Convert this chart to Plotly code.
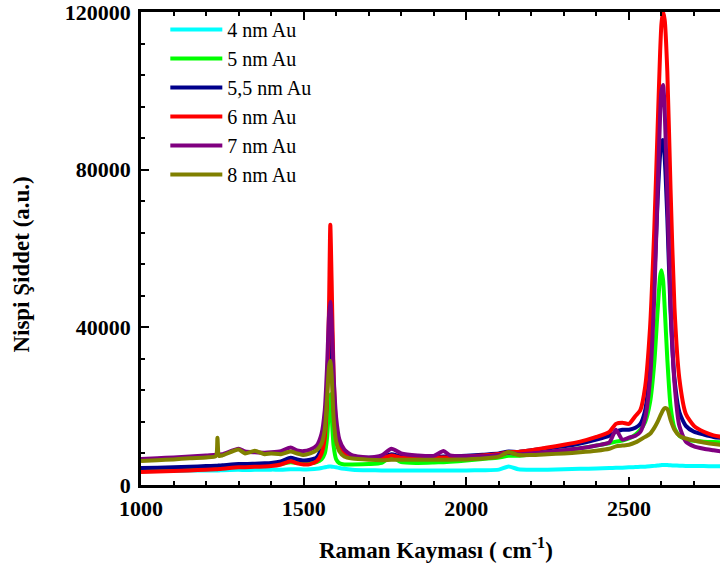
import plotly.graph_objects as go

# Raman shift sampling points (cm^-1)
raman_shift = [1000, 1050, 1100, 1150, 1200, 1230, 1235, 1240, 1250, 1300, 1320, 1350,
               1380, 1400, 1430, 1460, 1480, 1500, 1520, 1540, 1555, 1565, 1572, 1578,
               1582, 1586, 1592, 1600, 1610, 1625, 1650, 1700, 1740, 1770, 1800, 1850,
               1900, 1930, 1950, 2000, 2050, 2100, 2130, 2160, 2200, 2250, 2300, 2350,
               2400, 2440, 2460, 2480, 2500, 2520, 2535, 2550, 2565, 2578, 2588, 2596,
               2600, 2605, 2610, 2618, 2628, 2640, 2655, 2675, 2700, 2730, 2760, 2800]

au_4nm = [3500, 3550, 3600, 3650, 3700, 3700, 3700, 3700, 3750, 3850, 3800, 3850,
          3850, 3900, 3900, 4000, 4000, 3950, 4000, 4100, 4300, 4500, 4600, 4700,
          4700, 4650, 4600, 4500, 4300, 4100, 3900, 3750, 3700, 3700, 3650, 3650,
          3650, 3650, 3650, 3700, 3750, 3900, 4700, 4000, 3850, 3900, 4000, 4100,
          4200, 4300, 4350, 4400, 4500, 4550, 4600, 4650, 4750, 4850, 4950, 5000,
          5050, 5100, 5100, 5050, 5000, 4950, 4900, 4850, 4800, 4800, 4750, 4750]

au_5nm = [3800, 3900, 4000, 4150, 4300, 4400, 4400, 4450, 4500, 4800, 4800, 4900,
          5000, 5100, 5300, 5800, 5600, 5400, 5500, 5800, 6500, 8000, 12000, 20000,
          23000, 18000, 10000, 6500, 5500, 5200, 5200, 5300, 5600, 7200, 5800, 5600,
          5700, 5800, 5900, 6200, 6600, 7000, 7400, 7400, 7800, 8300, 8800, 9300,
          10000, 10600, 11000, 11300, 11800, 12800, 14000, 16000, 21000, 31000, 44000, 53000,
          54500, 52000, 45000, 32000, 20000, 14500, 12500, 11600, 11200, 11000, 10900, 10800]

au_55nm = [4300, 4400, 4500, 4650, 4800, 4900, 4900, 4950, 5000, 5300, 5300, 5400,
           5500, 5600, 6000, 6900, 6500, 6200, 6400, 7000, 9500, 14000, 24000, 38000,
           44000, 37000, 20000, 12000, 9000, 7700, 7200, 6900, 7100, 7800, 7200, 7100,
           7100, 7200, 7200, 7400, 7700, 8000, 8500, 8400, 8800, 9300, 9800, 10500,
           11500, 12500, 13500, 14000, 14000, 14500, 15500, 19000, 30000, 52000, 72000, 84000,
           87000, 87500, 83000, 68000, 44000, 27000, 18500, 15000, 13500, 12800, 12200, 11800]

au_6nm = [3300, 3400, 3550, 3700, 3900, 4000, 4000, 4050, 4100, 4500, 4500, 4600,
          4700, 4800, 5200, 6000, 5500, 5200, 5300, 6000, 8000, 12000, 22000, 45000,
          66000, 52000, 28000, 15000, 10000, 8000, 7000, 6600, 6800, 7500, 6900, 6800,
          6900, 7000, 7000, 7200, 7500, 7900, 8300, 8400, 8800, 9500, 10200, 11000,
          12200, 13500, 15500, 15800, 15500, 17500, 19000, 25000, 40000, 65000, 90000, 110000,
          117000, 120000, 118000, 105000, 75000, 45000, 27000, 18000, 15000, 13500, 12600, 12000]

au_7nm = [6600, 6800, 7000, 7200, 7500, 7700, 7700, 7750, 7800, 9200, 8500, 8300,
          8200, 8300, 8600, 9500, 8800, 8600, 9000, 10000, 13000, 19000, 30000, 43000,
          46500, 42000, 28000, 17000, 11500, 9000, 7500, 7000, 7500, 9200, 8000, 7500,
          7400, 8600, 7500, 7300, 7300, 7600, 8200, 7800, 8000, 8400, 8800, 9300,
          10000, 10800, 14000, 11500, 12000, 12500, 13500, 17000, 27000, 48000, 74000, 94000,
          100000, 101500, 95000, 74000, 46000, 26000, 15000, 11000, 9800, 9200, 8800, 8300]

au_8nm = [6100, 6300, 6500, 6800, 7000, 7300, 12000, 7400, 7500, 9000, 8000, 8700,
          7800, 8000, 7800, 8500, 8000, 7600, 8000, 8800, 10500, 14000, 22000, 30000,
          31500, 28000, 17000, 11000, 8500, 7200, 6700, 6400, 6300, 6400, 6400, 6400,
          6400, 6400, 6400, 6500, 6700, 7200, 8400, 7600, 7600, 7800, 8000, 8300,
          8700, 9200, 9800, 10000, 10200, 10800, 11500, 12200, 13000, 14500, 16000, 17500,
          18200, 19000, 19500, 19300, 16500, 14000, 12500, 11800, 11300, 10800, 10400, 10100]

series_names = ["4 nm Au", "5 nm Au", "5,5 nm Au", "6 nm Au", "7 nm Au", "8 nm Au"]
series_values = [au_4nm, au_5nm, au_55nm, au_6nm, au_7nm, au_8nm]
series_colors = ["#00FFFF", "#00FF00", "#00008B", "#FF0000", "#800080", "#808000"]

SERIF = "Liberation Serif, Times New Roman, serif"

fig = go.Figure()
for i, (name, vals, col) in enumerate(zip(series_names, series_values, series_colors)):
    fig.add_trace(go.Scatter(
        x=raman_shift, y=vals, name=name, mode="lines",
        line=dict(color=col, width=4, shape="spline", smoothing=0.6),
        legendgroup=f"g{i}",
    ))

axis_common = dict(
    showline=True, linecolor="black", linewidth=2.5,
    ticks="inside", ticklen=8, tickwidth=2, tickcolor="black",
    showgrid=False, zeroline=False, ticklabeloverflow="allow",
    tickfont=dict(family=SERIF, size=22, color="black", weight="bold"),
)

fig.update_xaxes(
    **axis_common, range=[1000, 2780], dtick=500, tick0=1000,
    mirror="allticks", ticklabelstandoff=2,
    minor=dict(dtick=100, ticks="inside", ticklen=4, tickwidth=2, tickcolor="black"),
)
fig.update_yaxes(
    **axis_common, range=[0, 120000], dtick=40000, tick0=0, tickformat="d",
    mirror=False, ticklabelstandoff=3,
    minor=dict(dtick=8000, ticks="inside", ticklen=4, tickwidth=2, tickcolor="black"),
)

fig.update_layout(
    width=720, height=571,
    margin=dict(l=141, r=0, t=10, b=86),
    paper_bgcolor="white", plot_bgcolor="white",
    showlegend=True,
    legend=dict(
        x=0.042, y=1.004, xanchor="left", yanchor="top",
        bgcolor="rgba(0,0,0,0)", borderwidth=0,
        font=dict(family=SERIF, size=20, color="black"),
        tracegroupgap=0, itemwidth=52,
    ),
    annotations=[
        dict(text="Nispi Şiddet (a.u.)", textangle=-90, showarrow=False,
             xref="paper", yref="paper", x=-0.208, y=0.465, xanchor="center", yanchor="middle",
             font=dict(family=SERIF, size=23, color="black", weight="bold")),
        dict(text="Raman Kayması ( cm<sup>-1</sup>)", showarrow=False,
             xref="paper", yref="paper", x=0.51, y=-0.135, xanchor="center", yanchor="middle",
             font=dict(family=SERIF, size=23, color="black", weight="bold")),
    ],
)

fig.write_html("out.html")
